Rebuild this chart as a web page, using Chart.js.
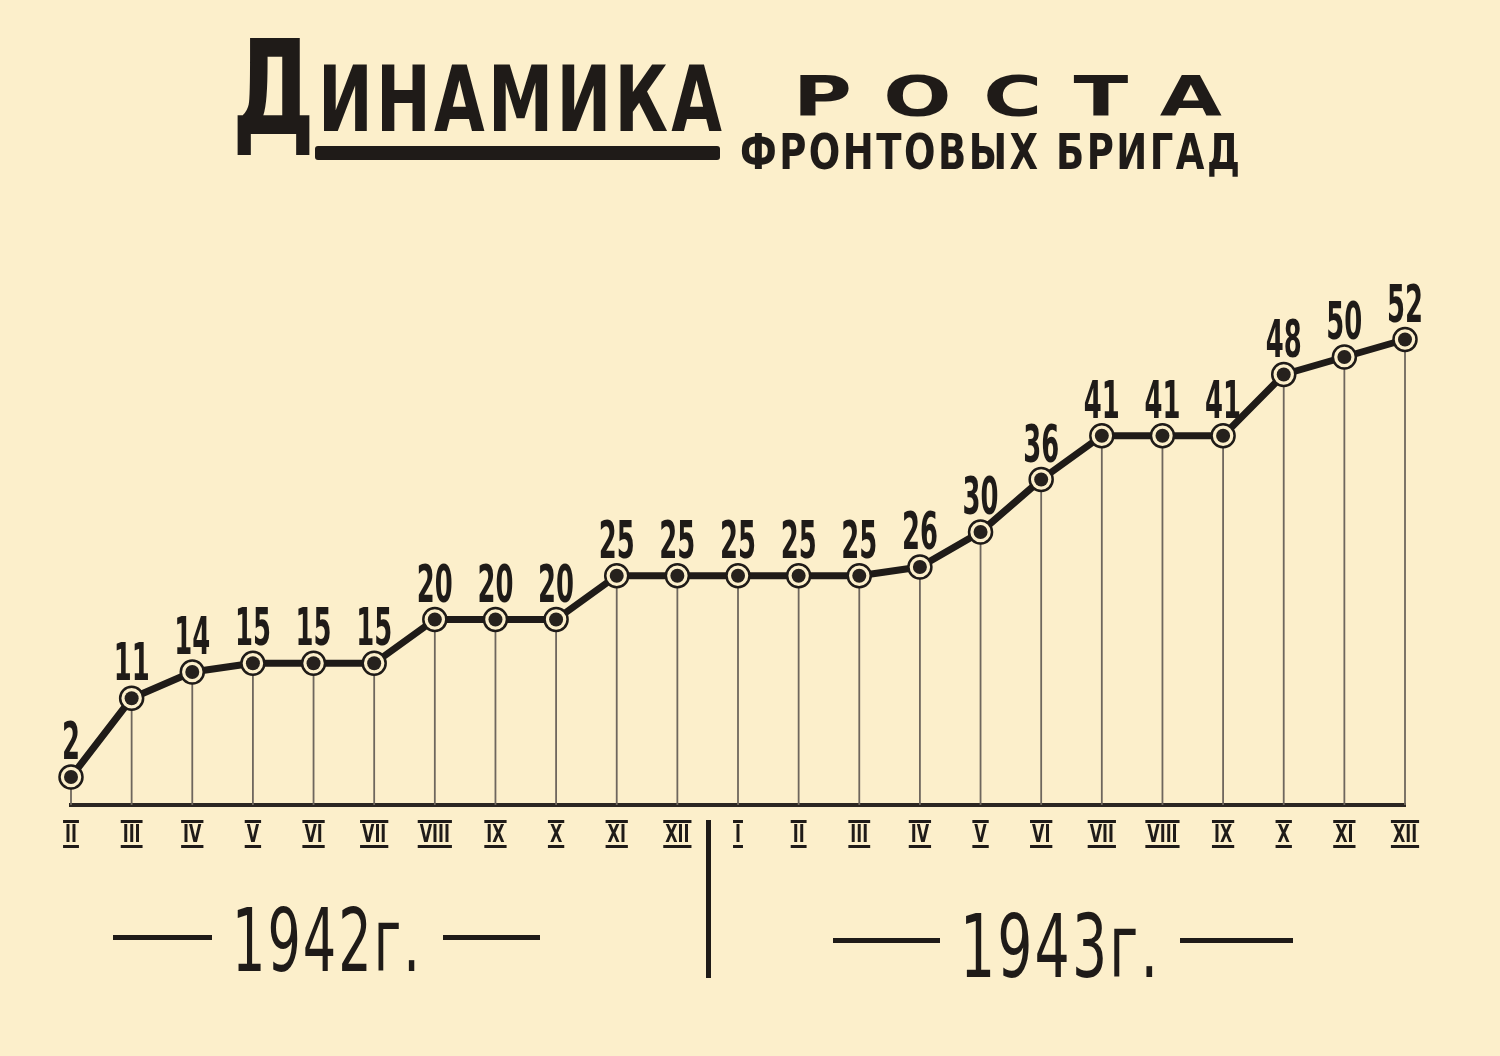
<!DOCTYPE html>
<html lang="ru">
<head>
<meta charset="utf-8">
<title>Динамика роста фронтовых бригад</title>
<script src="https://cdn.jsdelivr.net/npm/chart.js@4.4.1/dist/chart.umd.min.js"></script>
<style>
    html, body { margin: 0; padding: 0; }
    body {
        width: 1500px; height: 1056px; overflow: hidden; position: relative;
        background: #fcefcb; color: #1f1b18;
        font-family: "DejaVu Sans Condensed", "Liberation Sans", sans-serif;
    }
    #chart { position: absolute; left: 0; top: 0; }
    .txt { position: absolute; white-space: nowrap; line-height: 1; transform-origin: left top; }
    .bar { position: absolute; background: #1f1b18; }
    .t-d { left: 232px; top: 22px; font-size: 132px; font-weight: bold; }
    .t-rest { left: 318px; top: 55px; font-size: 90px; font-weight: bold; text-transform: uppercase; letter-spacing: 4px; }
    .t-rosta {
        left: 793px; top: 68px; font-size: 56px; font-family: "DejaVu Sans", sans-serif; font-weight: bold;
        text-transform: uppercase; letter-spacing: 22px;
    }
    .t-sub { left: 740px; top: 127px; font-size: 50px; font-weight: bold; text-transform: uppercase; letter-spacing: 3px; }
    .year { font-size: 87px; letter-spacing: 3px; }
</style>
</head>
<body>
<canvas id="chart" width="1500" height="1056"></canvas>

<div class="txt t-d" data-w="83" data-ls="0">Д</div>
<div class="txt t-rest" data-w="404" data-ls="4">инамика</div>
<div class="bar" style="left:315px; top:146px; width:405px; height:14px; border-radius:3px;"></div>
<div class="txt t-rosta" data-w="429" data-ls="22">роста</div>
<div class="txt t-sub" data-w="500" data-ls="3">фронтовых бригад</div>

<div class="bar" style="left:113px; top:935px; width:99px; height:5px;"></div>
<div class="txt year" style="left:232px; top:898px;" data-w="188" data-ls="3">1942г.</div>
<div class="bar" style="left:443px; top:935px; width:97px; height:5px;"></div>

<div class="bar" style="left:706px; top:820px; width:5px; height:158px;"></div>

<div class="bar" style="left:833px; top:938px; width:107px; height:5px;"></div>
<div class="txt year" style="left:960px; top:904px;" data-w="198" data-ls="3">1943г.</div>
<div class="bar" style="left:1180px; top:938px; width:113px; height:5px;"></div>

<script>
// months: Feb 1942 .. Dec 1943
const months = ['II', 'III', 'IV', 'V', 'VI', 'VII', 'VIII', 'IX', 'X', 'XI', 'XII',
    'I', 'II', 'III', 'IV', 'V', 'VI', 'VII', 'VIII', 'IX', 'X', 'XI', 'XII'];
const brigades = [2, 11, 14, 15, 15, 15, 20, 20, 20, 25, 25, 25, 25, 25, 26, 30, 36, 41, 41, 41, 48, 50, 52];

const ink = '#1f1b18';
const paper = '#fcefcb';
const labelFont = '"DejaVu Sans Condensed", "Liberation Sans", sans-serif';

// squeeze/stretch the lettering to the width it has on the poster
document.querySelectorAll('.txt[data-w]').forEach(function (el) {
    const ls = parseFloat(el.dataset.ls) || 0;
    const w = el.getBoundingClientRect().width - ls;
    el.style.transform = 'scaleX(' + (parseFloat(el.dataset.w) / w) + ')';
});

// thin verticals from each point down to the axis
const dropLines = {
    id: 'dropLines',
    beforeDatasetsDraw(chart) {
        const ctx = chart.ctx;
        const meta = chart.getDatasetMeta(0);
        const bottom = chart.chartArea.bottom;
        ctx.save();
        ctx.strokeStyle = '#6e665d';
        ctx.lineWidth = 1.8;
        meta.data.forEach(function (pt) {
            ctx.beginPath();
            ctx.moveTo(pt.x, pt.y);
            ctx.lineTo(pt.x, bottom);
            ctx.stroke();
        });
        ctx.restore();
    }
};

// numbers above the points
const valueLabels = {
    id: 'valueLabels',
    afterDatasetsDraw(chart) {
        const ctx = chart.ctx;
        const meta = chart.getDatasetMeta(0);
        ctx.save();
        ctx.fillStyle = ink;
        ctx.font = 'bold 51px ' + labelFont;
        ctx.textAlign = 'center';
        ctx.textBaseline = 'alphabetic';
        meta.data.forEach(function (pt, i) {
            const s = String(brigades[i]);
            const w = ctx.measureText(s).width;
            const sx = (18 * s.length) / w;
            ctx.save();
            ctx.translate(pt.x, pt.y - 18);
            ctx.scale(sx, 1);
            ctx.fillText(s, 0, 0);
            ctx.restore();
        });
        ctx.restore();
    }
};

// roman month labels with bars above and below
const monthTicks = {
    id: 'monthTicks',
    afterDraw(chart) {
        const ctx = chart.ctx;
        const x = chart.scales.x;
        const sx = 0.74;
        ctx.save();
        ctx.fillStyle = ink;
        ctx.font = 'bold 24px ' + labelFont;
        ctx.textAlign = 'center';
        ctx.textBaseline = 'alphabetic';
        x.ticks.forEach(function (t, i) {
            const px = x.getPixelForTick(i);
            const label = x.getLabelForValue(t.value);
            const w = ctx.measureText(label).width * sx;
            ctx.save();
            ctx.translate(px, 842);
            ctx.scale(sx, 1);
            ctx.fillText(label, 0, 0);
            ctx.restore();
            ctx.fillRect(px - w / 2 - 2, 820, w + 4, 3);
            ctx.fillRect(px - w / 2 - 2, 845, w + 4, 3);
        });
        ctx.restore();
    }
};

new Chart(document.getElementById('chart'), {
    type: 'line',
    data: {
        labels: months,
        datasets: [{
            label: 'Фронтовые бригады',
            data: brigades,
            order: 1,
            borderColor: ink,
            borderWidth: 7,
            borderJoinStyle: 'round',
            borderCapStyle: 'round',
            tension: 0,
            pointRadius: 11.5,
            pointBackgroundColor: paper,
            pointBorderColor: ink,
            pointBorderWidth: 2.5,
            clip: false
        }, {
            label: 'dots',
            data: brigades,
            order: 0,
            showLine: false,
            pointRadius: 7,
            pointBackgroundColor: '#26211d',
            pointBorderWidth: 0,
            clip: false
        }]
    },
    options: {
        responsive: false,
        animation: false,
        devicePixelRatio: 1,
        events: [],
        layout: {
            padding: { left: 71, right: 95, top: 280, bottom: 251 }
        },
        plugins: {
            legend: { display: false },
            tooltip: { enabled: false }
        },
        scales: {
            x: {
                grid: { display: false, drawTicks: false },
                ticks: { display: false },
                border: { display: true, color: '#2b2622', width: 4 }
            },
            y: {
                display: false,
                min: -1.2,
                max: 58.8
            }
        }
    },
    plugins: [dropLines, valueLabels, monthTicks]
});
</script>
</body>
</html>
